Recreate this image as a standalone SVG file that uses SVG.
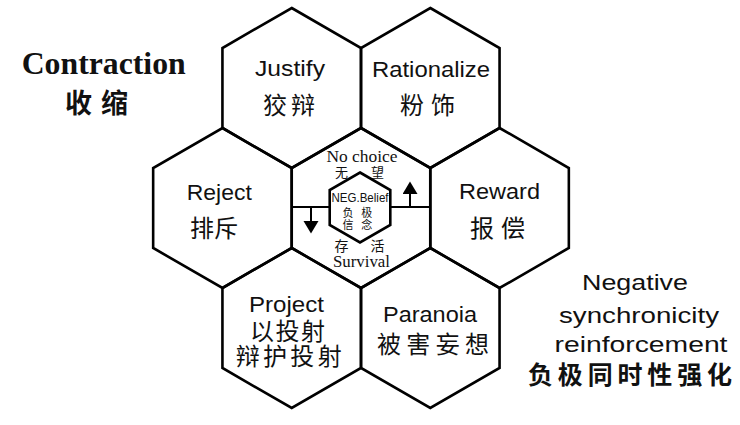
<svg xmlns="http://www.w3.org/2000/svg" xmlns:xlink="http://www.w3.org/1999/xlink" width="740" height="425" viewBox="0 0 740 425">
<style>
.hex{fill:none;stroke:#000;stroke-width:2.6;stroke-linejoin:miter}
.en{font-family:"Liberation Sans",Arial,sans-serif;font-size:22px;fill:#111;text-anchor:middle}
.cn{font-family:"Noto Sans CJK SC",sans-serif;font-size:24px;fill:#111;text-anchor:middle;dominant-baseline:central}
.sf{font-family:"Liberation Serif","Times New Roman",serif;fill:#111;text-anchor:middle}
.cs{font-family:"Noto Sans CJK SC",sans-serif;fill:#111;text-anchor:middle;dominant-baseline:central}
.ln{stroke:#000;stroke-width:2;fill:none}
</style>
<defs>
<path id="hexp" d="M0,-80 L69.28,-40 L69.28,40 L0,80 L-69.28,40 L-69.28,-40 Z"/>
<marker id="tri" markerUnits="userSpaceOnUse" markerWidth="16" markerHeight="16" refX="5" refY="7.5" orient="auto">
<path d="M0,0 L12.5,7.5 L0,15 Z" fill="#000"/>
</marker>
</defs>
<rect width="740" height="425" fill="#fff"/>

<g id="title-left">
<text x="21.7" y="74.3" font-family="Liberation Serif,Times New Roman,serif" font-weight="bold" font-size="32" fill="#111" textLength="164" lengthAdjust="spacingAndGlyphs">Contraction</text>
<text x="96.5" y="101.5" class="cs" font-size="27" font-weight="bold" textLength="63" lengthAdjust="spacing">收缩</text>
</g>

<g id="hex-justify">
<use xlink:href="#hexp" class="hex" transform="translate(291.72,88)"/>
<text x="290" y="76" class="en" textLength="70" lengthAdjust="spacingAndGlyphs">Justify</text>
<text x="289" y="103" class="cn" textLength="52" lengthAdjust="spacing">狡辩</text>
</g>

<g id="hex-rationalize">
<use xlink:href="#hexp" class="hex" transform="translate(430.28,88)"/>
<text x="431" y="77" class="en" textLength="118" lengthAdjust="spacingAndGlyphs">Rationalize</text>
<text x="427.5" y="103" class="cn" textLength="55" lengthAdjust="spacing">粉饰</text>
</g>

<g id="hex-reject">
<use xlink:href="#hexp" class="hex" transform="translate(222.44,208)"/>
<text x="219.3" y="200" class="en" textLength="65" lengthAdjust="spacingAndGlyphs">Reject</text>
<text x="214" y="226" class="cn" textLength="48" lengthAdjust="spacing">排斥</text>
</g>

<g id="hex-reward">
<use xlink:href="#hexp" class="hex" transform="translate(499.56,208)"/>
<text x="499.5" y="199" class="en" textLength="81" lengthAdjust="spacingAndGlyphs">Reward</text>
<text x="497.5" y="226" class="cn" textLength="55" lengthAdjust="spacing">报偿</text>
</g>

<g id="hex-project">
<use xlink:href="#hexp" class="hex" transform="translate(291.72,328)"/>
<text x="286.5" y="311.7" class="en" textLength="75" lengthAdjust="spacingAndGlyphs">Project</text>
<text x="287.5" y="329.5" class="cn" font-size="23" textLength="75" lengthAdjust="spacing">以投射</text>
<text x="288.7" y="354" class="cn" font-size="23" textLength="106" lengthAdjust="spacing">辩护投射</text>
</g>

<g id="hex-paranoia">
<use xlink:href="#hexp" class="hex" transform="translate(430.28,328)"/>
<text x="430" y="321.7" class="en" textLength="94" lengthAdjust="spacingAndGlyphs">Paranoia</text>
<text x="433" y="342" class="cn" textLength="112" lengthAdjust="spacing">被害妄想</text>
</g>

<g id="hex-center">
<use xlink:href="#hexp" class="hex" transform="translate(361,208)"/>
<text x="362" y="161.7" class="sf" font-size="16" textLength="71" lengthAdjust="spacingAndGlyphs">No choice</text>
<text x="341.5" y="171.5" class="cs" font-size="13">无</text>
<text x="377.5" y="171.5" class="cs" font-size="13">望</text>
<text x="341.5" y="245" class="cs" font-size="14">存</text>
<text x="377.5" y="245" class="cs" font-size="14">活</text>
<text x="361.5" y="266.5" class="sf" font-size="16" textLength="57" lengthAdjust="spacingAndGlyphs">Survival</text>
</g>

<g id="hex-neg-belief">
<path class="hex" d="M360,172.5 L390.3,190 L390.3,225 L360,242.5 L329.7,225 L329.7,190 Z"/>
<text x="360" y="201.5" font-family="Liberation Sans,Arial,sans-serif" font-size="12" fill="#111" text-anchor="middle" textLength="57" lengthAdjust="spacingAndGlyphs">NEG.Belief</text>
<text x="348" y="211.5" class="cs" font-size="11">负</text>
<text x="366.7" y="211.5" class="cs" font-size="11">极</text>
<text x="348" y="224" class="cs" font-size="11">信</text>
<text x="366.7" y="224" class="cs" font-size="11">念</text>
</g>

<g id="connectors">
<line class="ln" x1="291.7" y1="207" x2="329.7" y2="207"/>
<line class="ln" x1="390.3" y1="207" x2="430.3" y2="207"/>
<line class="ln" x1="311" y1="207" x2="311" y2="226" marker-end="url(#tri)"/>
<line class="ln" x1="410" y1="207" x2="410" y2="189" marker-end="url(#tri)"/>
</g>

<g id="title-right">
<text x="635" y="290" class="en" textLength="106" lengthAdjust="spacingAndGlyphs">Negative</text>
<text x="639" y="323.3" class="en" textLength="160" lengthAdjust="spacingAndGlyphs">synchronicity</text>
<text x="641" y="352" class="en" textLength="173" lengthAdjust="spacingAndGlyphs">reinforcement</text>
<text x="630" y="373.3" class="cs" font-size="25" font-weight="bold" textLength="204" lengthAdjust="spacing">负极同时性强化</text>
</g>
</svg>
